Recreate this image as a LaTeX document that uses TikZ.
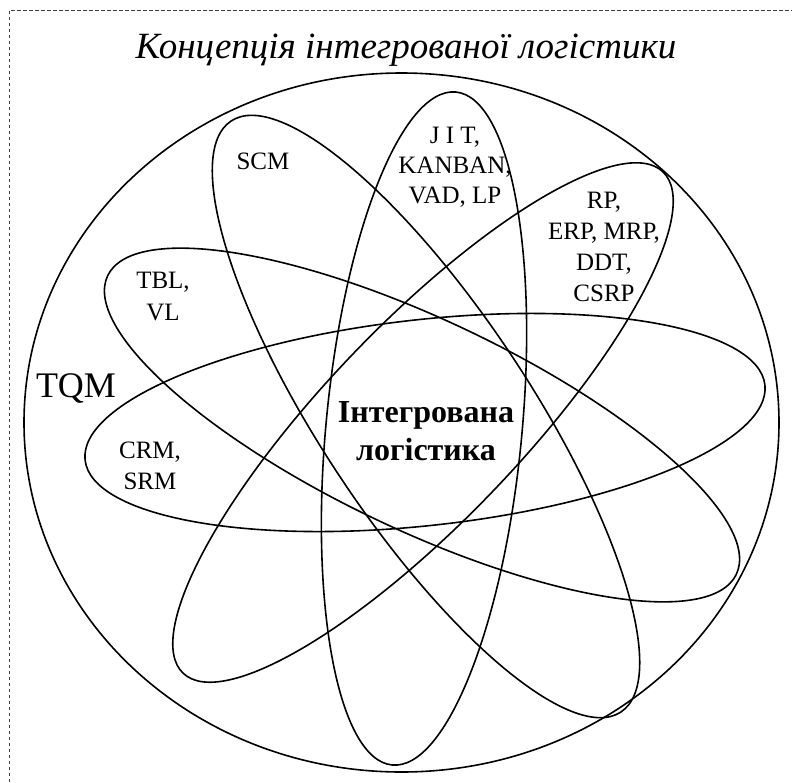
\documentclass[tikz,border=0pt]{standalone}
\usepackage{fontspec}
\setmainfont{Liberation Serif}
\begin{document}
\begin{tikzpicture}[x=1pt,y=-1pt,
  orbit/.style={draw=black,line width=1.6pt},
  lbl/.style={inner sep=0pt,anchor=base,align=center,font=\fontsize{25}{31}\selectfont},
  frame/.style={draw=black!75,line width=0.6pt,dash pattern=on 3.5pt off 2.5pt}]
\useasboundingbox (0,0) rectangle (792,782);
% dashed frame (only top and left edges visible)
\draw[frame] (9,782) -- (9,10) -- (792,10);
% title
\node[inner sep=0pt,anchor=base,font=\fontsize{37}{42}\selectfont\itshape] (title) at (406,58) {Концепція інтегрованої логістики};
% big circle (TQM)
\draw[orbit] (401.5,422.5) ellipse [x radius=377.5pt, y radius=349.5pt];
% ellipses
\draw[orbit,rotate around={84.6:(424,428.5)}] (424,428.5) ellipse [x radius=338pt, y radius=98pt];
\draw[orbit,rotate around={46.25:(423,422.5)}] (423,422.5) ellipse [x radius=347pt, y radius=98pt];
\draw[orbit,rotate around={6.3:(425,422.5)}] (425,422.5) ellipse [x radius=342pt, y radius=103pt];
\draw[orbit,rotate around={-25.4:(422,425)}] (422,425) ellipse [x radius=348pt, y radius=105pt];
\draw[orbit,rotate around={-56.6:(426,416.5)}] (426,416.5) ellipse [x radius=354pt, y radius=105pt];
% labels
\node[inner sep=0pt,anchor=base,font=\fontsize{36}{40}\selectfont] (tqm) at (76,397) {TQM};
\node[lbl] (scm) at (263,169) {SCM};
\node[lbl,font=\fontsize{25}{30}\selectfont] (jit) at (455,203) {J I T,\\KANBAN,\\VAD, LP};
\node[lbl] (rp) at (604,301) {RP,\\ERP, MRP,\\DDT,\\CSRP};
\node[lbl,font=\fontsize{25}{32}\selectfont] (tbl) at (163,320) {TBL,\\VL};
\node[lbl] (crm) at (150,489) {CRM,\\SRM};
\node[inner sep=0pt,anchor=base,align=center,font=\fontsize{32}{38}\selectfont\bfseries] (il) at (426,460) {Інтегрована\\логістика};
\end{tikzpicture}
\end{document}
